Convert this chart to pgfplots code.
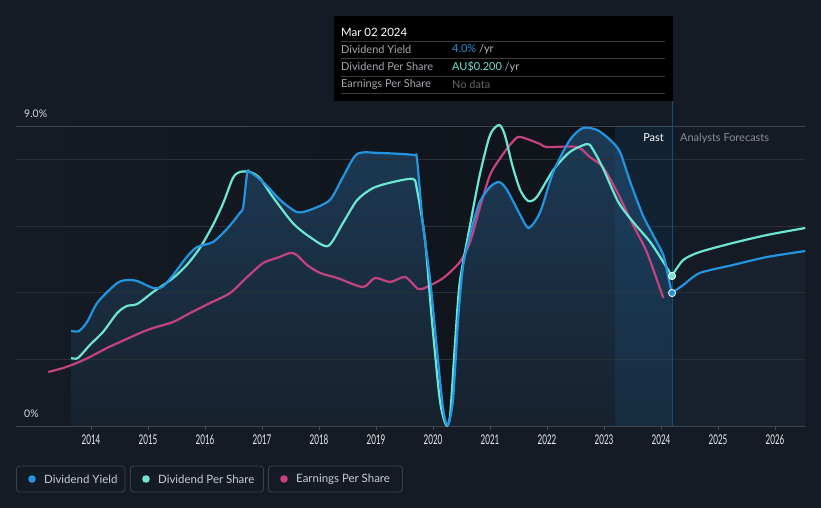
\documentclass[border=0pt]{standalone}
\usepackage{pgfplots}
\pgfplotsset{compat=1.18}
\usepackage{fontspec}
\setmainfont{Lato}
\newfontfamily\condfont[FakeStretch=0.6]{Lato}
\definecolor{bg}{HTML}{151B24}
\definecolor{pastdark}{HTML}{0F141B}
\definecolor{gridc}{HTML}{2A3038}
\definecolor{topline}{HTML}{40454D}
\definecolor{axisline}{HTML}{454B53}
\definecolor{dyc}{HTML}{2394DF}
\definecolor{dpsc}{HTML}{6CE5D2}
\definecolor{epsc}{HTML}{C4427F}
\definecolor{filltop}{HTML}{1C3B57}
\definecolor{fillbot}{HTML}{17212D}
\definecolor{fcfill}{HTML}{18222F}
\definecolor{bandc}{HTML}{1B5A8E}
\definecolor{vlinec}{HTML}{1F4B6D}
\definecolor{labc}{HTML}{A3A7AD}
\definecolor{legtext}{HTML}{C9CCD1}
\definecolor{legbord}{HTML}{3C424B}
\definecolor{sepc}{HTML}{3A3A3A}
\newcommand{\pxy}[2]{({#1*1bp},{(508-#2)*1bp})}
\begin{document}
\begin{tikzpicture}
\begin{axis}[
  set layers,
  at={(16bp,82bp)}, anchor=south west,
  scale only axis, width=789bp, height=300bp,
  xmin=2012.684, xmax=2026.526, ymin=0, ymax=9,
  clip=false,
  axis line style={draw=none},
  tick pos=left,
  xtick={2014,2015,...,2026},
  xticklabel style={font=\condfont\fontsize{13.5}{14}\selectfont, text=white!92!black, yshift=-1.5bp},
  /pgf/number format/1000 sep={},
  /pgf/number format/assume math mode=true,
  major tick length=4bp, tick align=outside,
  x tick style={color=axisline, line width=0.8bp},
  ytick={2,4,6,8}, yticklabels={}, y tick style={draw=none},
  ymajorgrids, grid style={color=gridc, line width=0.8bp},
  extra y ticks={0,9}, extra y tick labels={},
  extra y tick style={grid style={color=topline, line width=0.8bp}},
]
\begin{pgfonlayer}{axis background}
\fill[bg] (rel axis cs:-0.02028,-0.27333) rectangle (rel axis cs:1.02028,1.42);
\shade[left color=bg, right color=pastdark] (axis cs:2012.684,0) rectangle (axis cs:2023.193,9);
\fill[pastdark] (axis cs:2023.193,0) rectangle (axis cs:2024.193,9);
\end{pgfonlayer}
% fill under dividend yield (past)
\addplot[on layer=axis background, draw=none, smooth, tension=0.45, top color=filltop, bottom color=fillbot] coordinates {
(2013.65,2.85)(2013.79,2.85)(2013.93,3.12)(2014.12,3.72)(2014.46,4.29)(2014.65,4.38)(2014.81,4.35)(2015.09,4.14)(2015.25,4.17)(2015.44,4.53)(2015.68,5.07)(2015.86,5.37)(2016.14,5.52)(2016.40,5.94)(2016.61,6.39)(2016.67,6.57)(2016.74,7.59)(2016.79,7.62)(2017.02,7.32)(2017.32,6.78)(2017.61,6.42)(2017.84,6.48)(2018.19,6.78)(2018.42,7.47)(2018.67,8.16)(2019.07,8.19)(2019.65,8.13)(2019.72,7.98)(2019.82,6.09)(2019.95,4.38)(2020.07,2.28)(2020.18,0.48)(2020.26,0.03)(2020.35,0.78)(2020.44,3.18)(2020.53,4.83)(2020.68,5.94)(2020.82,6.72)(2021.00,7.17)(2021.16,7.32)(2021.30,7.08)(2021.53,6.33)(2021.68,5.94)(2021.88,6.42)(2022.11,7.62)(2022.40,8.58)(2022.63,8.94)(2022.88,8.88)(2023.11,8.58)(2023.28,8.22)(2023.46,7.32)(2023.68,6.33)(2023.86,5.73)(2024.04,5.13)(2024.12,4.53)(2024.19,3.99)
} \closedcycle;
% fill under dividend yield (forecast)
\addplot[on layer=axis background, draw=none, smooth, fill=fcfill] coordinates {
(2024.19,3.99)(2024.39,4.23)(2024.68,4.59)(2025.26,4.83)(2025.86,5.07)(2026.53,5.25)
} \closedcycle;
\begin{pgfonlayer}{pre main}
\fill[bandc, fill opacity=0.2] (axis cs:2023.193,0) rectangle (axis cs:2024.193,9);
\draw[vlinec, line width=0.8bp] (axis cs:2024.193,0) -- (axis cs:2024.193,9.75);
\end{pgfonlayer}
% Earnings per share
\addplot[epsc, line width=2.2bp, smooth, tension=0.45] coordinates {
(2013.25,1.62)(2013.51,1.74)(2013.75,1.89)(2013.98,2.07)(2014.28,2.34)(2014.51,2.52)(2014.86,2.79)(2015.09,2.94)(2015.44,3.12)(2015.74,3.39)(2016.09,3.69)(2016.44,3.99)(2016.74,4.47)(2017.02,4.89)(2017.26,5.04)(2017.49,5.19)(2017.61,5.13)(2017.79,4.83)(2018.02,4.59)(2018.32,4.44)(2018.77,4.17)(2018.98,4.44)(2019.25,4.32)(2019.51,4.47)(2019.74,4.11)(2019.89,4.17)(2020.18,4.44)(2020.47,4.92)(2020.65,5.52)(2020.82,6.54)(2021.00,7.53)(2021.18,8.04)(2021.35,8.43)(2021.49,8.67)(2021.65,8.61)(2021.88,8.46)(2022.00,8.37)(2022.53,8.37)(2022.75,8.07)(2022.98,7.77)(2023.23,7.02)(2023.51,6.03)(2023.75,5.22)(2024.04,3.84)
};
% Dividend per share (past)
\addplot[dpsc, line width=2.2bp, smooth, tension=0.45] coordinates {
(2013.65,2.04)(2013.77,2.04)(2013.98,2.43)(2014.21,2.82)(2014.46,3.39)(2014.63,3.60)(2014.81,3.66)(2015.09,4.02)(2015.44,4.44)(2015.68,4.83)(2015.91,5.34)(2016.14,6.03)(2016.32,6.69)(2016.49,7.44)(2016.61,7.62)(2016.79,7.62)(2016.96,7.44)(2017.19,6.87)(2017.54,6.09)(2017.84,5.67)(2018.16,5.40)(2018.42,6.09)(2018.67,6.78)(2018.95,7.14)(2019.30,7.32)(2019.65,7.41)(2019.72,7.08)(2019.86,5.58)(2019.98,3.18)(2020.12,0.78)(2020.23,0.03)(2020.30,0.33)(2020.39,2.58)(2020.47,4.32)(2020.65,6.03)(2020.82,7.53)(2021.00,8.73)(2021.16,9.03)(2021.26,8.73)(2021.39,7.83)(2021.53,7.08)(2021.67,6.75)(2021.82,6.87)(2022.11,7.68)(2022.40,8.22)(2022.70,8.46)(2022.79,8.34)(2022.98,7.74)(2023.25,6.72)(2023.51,6.12)(2023.81,5.52)(2024.04,4.92)(2024.19,4.50)
};
% Dividend per share (forecast)
\addplot[dpsc, line width=2.2bp, smooth, tension=0.45] coordinates {
(2024.19,4.50)(2024.39,4.98)(2024.68,5.22)(2025.26,5.49)(2025.86,5.73)(2026.53,5.94)
};
% Dividend yield (past)
\addplot[dyc, line width=2.2bp, smooth, tension=0.45] coordinates {
(2013.65,2.85)(2013.79,2.85)(2013.93,3.12)(2014.12,3.72)(2014.46,4.29)(2014.65,4.38)(2014.81,4.35)(2015.09,4.14)(2015.25,4.17)(2015.44,4.53)(2015.68,5.07)(2015.86,5.37)(2016.14,5.52)(2016.40,5.94)(2016.61,6.39)(2016.67,6.57)(2016.74,7.59)(2016.79,7.62)(2017.02,7.32)(2017.32,6.78)(2017.61,6.42)(2017.84,6.48)(2018.19,6.78)(2018.42,7.47)(2018.67,8.16)(2019.07,8.19)(2019.65,8.13)(2019.72,7.98)(2019.82,6.09)(2019.95,4.38)(2020.07,2.28)(2020.18,0.48)(2020.26,0.03)(2020.35,0.78)(2020.44,3.18)(2020.53,4.83)(2020.68,5.94)(2020.82,6.72)(2021.00,7.17)(2021.16,7.32)(2021.30,7.08)(2021.53,6.33)(2021.68,5.94)(2021.88,6.42)(2022.11,7.62)(2022.40,8.58)(2022.63,8.94)(2022.88,8.88)(2023.11,8.58)(2023.28,8.22)(2023.46,7.32)(2023.68,6.33)(2023.86,5.73)(2024.04,5.13)(2024.12,4.53)(2024.19,3.99)
};
% Dividend yield (forecast)
\addplot[dyc, line width=2.2bp, smooth, tension=0.45] coordinates {
(2024.19,3.99)(2024.39,4.23)(2024.68,4.59)(2025.26,4.83)(2025.86,5.07)(2026.53,5.25)
};
% current-value markers
\addplot[only marks, mark=*, mark size=3.6bp, mark options={fill=dpsc, draw=white, line width=0.8bp}] coordinates {(2024.193,4.50)};
\addplot[only marks, mark=*, mark size=3.6bp, mark options={fill=dyc, draw=white, line width=0.8bp}] coordinates {(2024.193,3.99)};
\end{axis}
% y labels
\node[anchor=west, inner sep=0pt, text=white!85!black, font=\fontsize{10.5}{12}\selectfont] at \pxy{24}{114} {9.0\%};
\node[anchor=west, inner sep=0pt, text=white!85!black, font=\fontsize{10.5}{12}\selectfont] at \pxy{24}{414} {0\%};
% past / forecast labels
\node[anchor=east, inner sep=0pt, text=white, font=\fontsize{11}{12}\selectfont] at \pxy{664}{138} {Past};
\node[anchor=west, inner sep=0pt, text=labc!85!black, font=\fontsize{11}{12}\selectfont] at \pxy{680}{138} {Analysts Forecasts};
% tooltip
\fill[black] \pxy{334}{16} rectangle \pxy{673}{101};
\foreach \yy in {41,58,76,93} {\draw[sepc, line width=0.8bp] \pxy{341}{\yy} -- \pxy{665}{\yy};}
\node[anchor=west, inner sep=0pt, text=white, font=\fontsize{11.5}{13}\selectfont] at \pxy{341}{32} {Mar 02 2024};
\node[anchor=west, inner sep=0pt, text=labc, font=\fontsize{11}{13}\selectfont] at \pxy{341}{49.5} {Dividend Yield};
\node[anchor=west, inner sep=0pt, text=labc, font=\fontsize{11}{13}\selectfont] at \pxy{341}{66.5} {Dividend Per Share};
\node[anchor=west, inner sep=0pt, text=labc, font=\fontsize{11}{13}\selectfont] at \pxy{341}{84.5} {Earnings Per Share};
\node[anchor=west, inner sep=0pt, font=\fontsize{11}{13}\selectfont] at \pxy{452}{49.5} {\textcolor{dyc}{4.0\%} \textcolor{labc!80!white}{/yr}};
\node[anchor=west, inner sep=0pt, font=\fontsize{11}{13}\selectfont] at \pxy{452}{66.5} {\textcolor{dpsc}{AU\$0.200} \textcolor{labc!80!white}{/yr}};
\node[anchor=west, inner sep=0pt, text=white!40!black, font=\fontsize{11}{13}\selectfont] at \pxy{452}{84.5} {No data};
% legend
\draw[legbord, line width=0.8bp, rounded corners=3bp] \pxy{16.5}{466} rectangle \pxy{125}{492};
\draw[legbord, line width=0.8bp, rounded corners=3bp] \pxy{130.5}{466} rectangle \pxy{263.5}{492};
\draw[legbord, line width=0.8bp, rounded corners=3bp] \pxy{268.5}{466} rectangle \pxy{402.5}{492};
\fill[dyc] \pxy{32}{479} circle (3.8bp);
\fill[dpsc] \pxy{146}{479} circle (3.8bp);
\fill[epsc] \pxy{284}{479} circle (3.8bp);
\node[anchor=west, inner sep=0pt, text=legtext, font=\fontsize{11.5}{13}\selectfont] at \pxy{44}{479} {Dividend Yield};
\node[anchor=west, inner sep=0pt, text=legtext, font=\fontsize{11.5}{13}\selectfont] at \pxy{158}{479} {Dividend Per Share};
\node[anchor=west, inner sep=0pt, text=legtext, font=\fontsize{11.5}{13}\selectfont] at \pxy{296}{479} {Earnings Per Share};
\pgfresetboundingbox
\path (0,0) rectangle (821bp,508bp);
\end{tikzpicture}
\end{document}
